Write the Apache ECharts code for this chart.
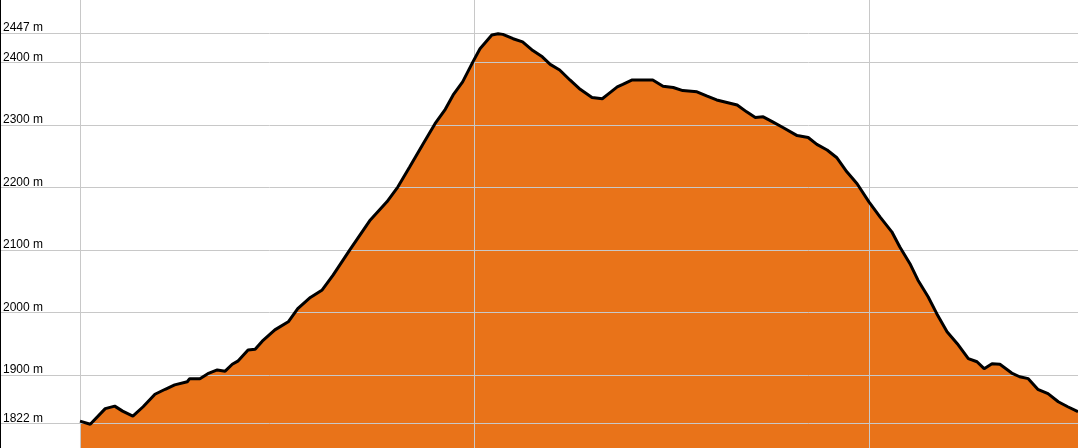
<!DOCTYPE html>
<html>
<head>
<meta charset="utf-8">
<script src="https://cdn.jsdelivr.net/npm/echarts@6/dist/echarts.min.js"></script>
<style>
  html, body { margin: 0; padding: 0; background: #fff; }
  #chart { width: 1078px; height: 448px; }
</style>
</head>
<body>
<div id="chart"></div>
<script>
// distance (km) along the track
const distances = [
  0, 0.13, 0.32, 0.44, 0.54, 0.67, 0.80, 0.95, 1.08, 1.20, 1.36, 1.39, 1.52, 1.62, 1.74, 1.84, 1.93, 2.00,
  2.13, 2.22, 2.31, 2.47, 2.64, 2.76, 2.92, 3.07, 3.21, 3.42, 3.68, 3.89, 4.03, 4.18, 4.35, 4.50, 4.63,
  4.73, 4.85, 4.98, 5.07, 5.22, 5.30, 5.36, 5.49, 5.61, 5.74, 5.86, 5.96, 6.08, 6.21, 6.34, 6.49, 6.62,
  6.69, 6.81, 6.88, 7.00, 7.14, 7.26, 7.39, 7.52, 7.64, 7.82, 7.95, 8.07, 8.20, 8.33, 8.45, 8.56, 8.66,
  8.78, 8.91, 9.09, 9.23, 9.34, 9.47, 9.59, 9.72, 9.85, 10.00, 10.14, 10.29, 10.39, 10.52, 10.62, 10.75,
  10.86, 10.99, 11.12, 11.26, 11.37, 11.46, 11.56, 11.66, 11.81, 11.91, 12.02, 12.14, 12.27, 12.40,
  12.52, 12.65
]
// elevation (m)
const elevations = [
  1826, 1821, 1846, 1850, 1842, 1834, 1849, 1869, 1877, 1884, 1889, 1894, 1894, 1902, 1908, 1906, 1917, 1922,
  1940, 1941, 1954, 1972, 1985, 2006, 2024, 2036, 2060, 2100, 2148, 2177, 2201, 2233, 2270, 2302, 2325,
  2348, 2369, 2401, 2422, 2444, 2446, 2445, 2438, 2433, 2419, 2409, 2397, 2388, 2372, 2357, 2344, 2342,
  2349, 2361, 2365, 2372, 2372, 2372, 2362, 2360, 2355, 2353, 2346, 2340, 2336, 2332, 2321, 2312, 2313,
  2305, 2296, 2283, 2280, 2269, 2260, 2248, 2225, 2206, 2177, 2153, 2129, 2105, 2078, 2052, 2025,
  1998, 1969, 1950, 1926, 1921, 1910, 1918, 1917, 1903, 1897, 1894, 1877, 1870, 1857,
  1849, 1841
]
const yTicks = [2447, 2400, 2300, 2200, 2100, 2000, 1900, 1822]
const xTicks = [0, 5, 10]

const points = distances.map((d, i) => [d, elevations[i]])

const gridColor = '#c8c8c8'

// grid lines sit above the orange fill but under the black profile line
const markData = yTicks.map(v => ({ yAxis: v }))
  .concat(xTicks.map(v => ({ xAxis: v, label: { show: false } })))

const chart = echarts.init(document.getElementById('chart'))
chart.setOption({
  animation: false,
  grid: { left: 0, right: 0, top: 0, bottom: 0 },
  xAxis: {
    type: 'value',
    min: -1.014,
    max: 12.65,
    show: false
  },
  yAxis: {
    type: 'value',
    min: 1783,
    max: 2500,
    show: false
  },
  graphic: [
    { type: 'rect', left: 0, top: 0, shape: { width: 1, height: 448 }, style: { fill: '#000' }, z: 100 }
  ],
  series: [
    {
      type: 'line',
      data: points,
      showSymbol: false,
      z: 2,
      lineStyle: { width: 0 },
      areaStyle: { color: '#e97319', opacity: 1, origin: 'start' },
      markLine: {
        silent: true,
        symbol: 'none',
        z: 5,
        lineStyle: { color: gridColor, width: 1, type: 'solid' },
        label: {
          show: true,
          position: 'insideStartTop',
          distance: [3, -1],
          color: '#000',
          fontFamily: 'Liberation Sans, Arial, sans-serif',
          fontSize: 12,
          formatter: p => p.value + ' m'
        },
        data: markData
      }
    },
    {
      type: 'line',
      data: points,
      showSymbol: false,
      z: 10,
      lineStyle: { color: '#000', width: 3 }
    }
  ]
})
</script>
</body>
</html>
